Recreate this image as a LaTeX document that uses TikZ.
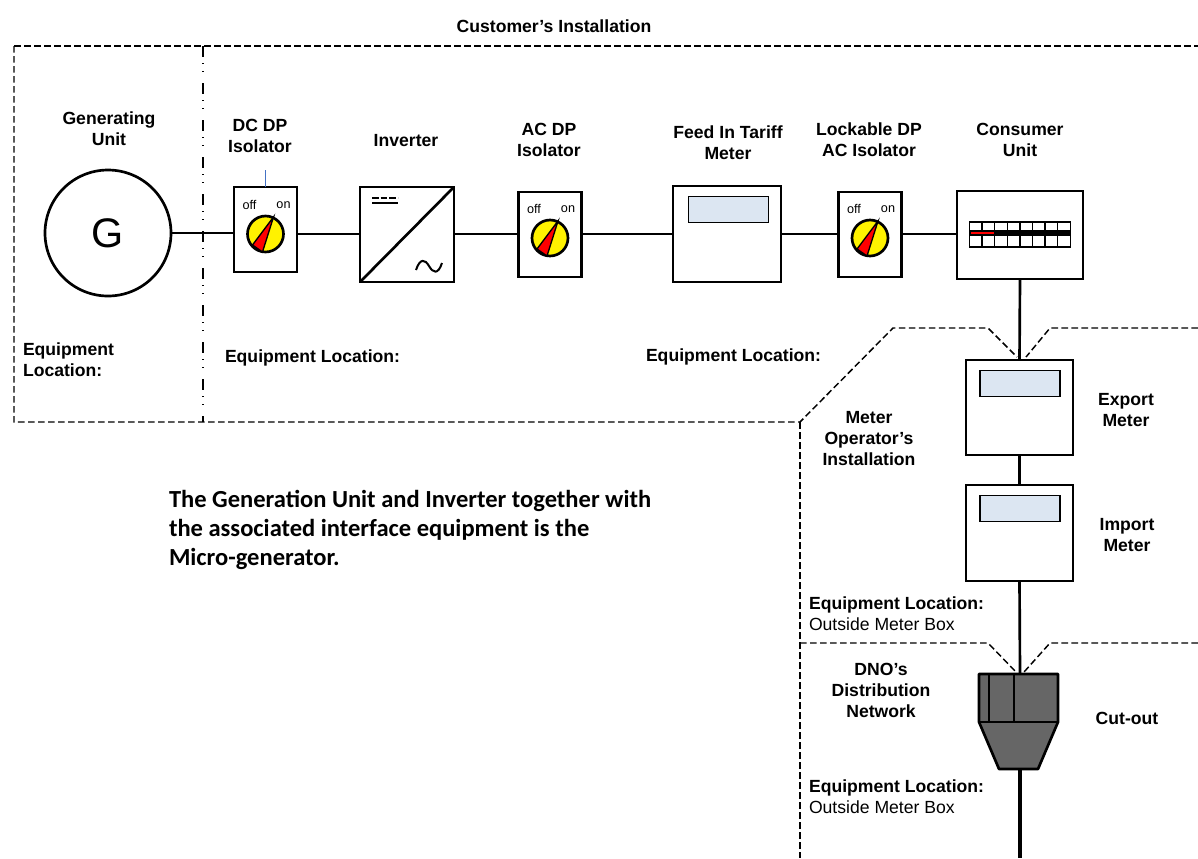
\documentclass[tikz,border=0pt]{standalone}
\usepackage{fontspec}
\setmainfont{Liberation Sans}
\newfontfamily\bodyfont{Carlito}
\usetikzlibrary{positioning}
\definecolor{screenblue}{RGB}{220,230,242}
\definecolor{leadblue}{RGB}{68,114,196}

\begin{document}
\begin{tikzpicture}[
      x=0.75pt, y=-0.75pt,
      every node/.style = {align=center, inner sep=0pt, outer sep=0pt},
      wire/.style       = {draw=black, line width=2pt},
      boundary/.style   = {draw=black, line width=1.1pt, dash pattern=on 5pt off 2.5pt},
      unit/.style       = {draw=black, line width=2pt, fill=white},
      isolatorbox/.style = {unit, minimum width=47.25pt, minimum height=63.75pt},
      meterbox/.style   = {unit, minimum width=80.25pt, minimum height=71.25pt},
      display/.style    = {draw=black, line width=1pt, fill=screenblue, minimum width=60pt, minimum height=19.5pt},
      knob/.style       = {circle, draw=black, line width=2pt, fill=yellow, minimum size=27pt},
      caption/.style    = {font=\fontsize{13.2}{15.75}\selectfont\bfseries},
      small/.style      = {font=\fontsize{9.5}{10}\selectfont}
    ]
    \useasboundingbox (0,0) rectangle (1198,858);

    % boundaries
    \draw[boundary] (14,46) -- (1198,46);
    \draw[boundary] (14,46) -- (14,422) -- (800,422) -- (893,328) -- (988,328) -- (1017,357);
    \draw[boundary] (1198,328) -- (1050,328) -- (1026,357);
    \draw[boundary, dash pattern=on 8pt off 5pt on 0.75pt off 5.25pt on 0.75pt off 8pt] (203,46) -- (203,422);
    \draw[boundary] (800,422) -- (800,858);
    \draw[boundary] (800,643) -- (988,643) -- (1016,672);
    \draw[boundary] (1198,643) -- (1050,643) -- (1024,672);

    % equipment
    \node (generator) [circle, unit, minimum size=94.5pt, font=\fontsize{31}{31}\selectfont] at (108,233) {G};
    \node (dcisolator)   [isolatorbox] at (265.5,229.5) {};
    \node (inverter)     [unit, minimum width=70.5pt, minimum height=71.25pt] at (407,234.5) {};
    \node (acisolator)   [isolatorbox] at (550,234.5) {};
    \node (fitmeter)     [meterbox, minimum width=81pt, minimum height=72pt] at (727,234) {};
    \node (fitdisplay)   [display] at (728.5,209.5) {};
    \node (lockisolator) [isolatorbox] at (870,234.5) {};
    \node (consumerunit) [unit, minimum width=94.5pt, minimum height=66pt] at (1020,235) {};
    \node (exportmeter)  [meterbox] at (1019.5,407.5) {};
    \node (exportdisplay) [display] at (1020,383.5) {};
    \node (importmeter)  [meterbox, minimum height=72pt] at (1019.5,533) {};
    \node (importdisplay) [display] at (1020,508.5) {};
    \coordinate (cutouttop) at (1020,674);
    \coordinate (cutoutbottom) at (1020,769);
    \coordinate (cableend) at (1020,858);

    % isolator knobs
    \foreach \name/\cx/\cy in {dc/265.5/234, ac/550/238, lock/870/238} {
      \node (\name knob) [knob] at (\cx,\cy) {};
      \draw[black, line width=1pt, fill=red] (\cx+8,\cy-17) -- (\cx-13,\cy+11) -- (\cx-3,\cy+18) -- cycle;
      \node [small] at (\cx-16,\cy-29) {off};
      \node [small] at (\cx+18,\cy-29) {on};
    }
    \draw[draw=leadblue, line width=1pt] (dcisolator.north) -- ++(0,-17);

    % inverter symbols
    \draw[wire] (inverter.south west) -- (inverter.north east);
    \draw[black, line width=1pt, dash pattern=on 5pt off 1.5pt] (372,198) -- (398,198);
    \draw[black, line width=1pt] (372,203) -- (398,203);
    \draw[black, line width=1.5pt] (416,270) .. controls (420,258) and (425,259) .. (429,266) .. controls (433,273) and (438,275) .. (442,263);

    % consumer unit breakers
    \foreach \i in {0,...,7} {
      \draw[black, line width=1pt] (969.5+\i*12.6,222) rectangle ++(12.6,25);
    }
    \fill[black] (969.5,230) rectangle (1070.3,235.5);
    \fill[red] (970.5,232) rectangle (994,234);

    % cut-out
    \fill[black!60, draw=black, line width=2pt, line join=round] (979,674) -- (1058,674) -- (1058,722) -- (1038,769) -- (999,769) -- (979,722) -- cycle;
    \draw[black, line width=2pt] (979,722) -- (1058,722);
    \draw[black, line width=1.5pt] (989,674) -- (989,722);
    \draw[black, line width=1.5pt] (1013.5,674) -- (1013.5,722);

    % connections
    \draw[wire] (generator) -- (generator -| dcisolator.west);
    \draw[wire] (dcknob -| dcisolator.east) -- (dcknob -| inverter.west);
    \draw[wire] (dcknob -| inverter.east) -- (dcknob -| acisolator.west);
    \draw[wire] (dcknob -| acisolator.east) -- (dcknob -| fitmeter.west);
    \draw[wire] (dcknob -| fitmeter.east) -- (dcknob -| lockisolator.west);
    \draw[wire] (dcknob -| lockisolator.east) -- (dcknob -| consumerunit.west);
    \draw[wire] (consumerunit.south) -- (exportmeter.north);
    \draw[wire] (exportmeter.south) -- (importmeter.north);
    \draw[wire] (importmeter.south) -- (cutouttop);
    \draw[black, line width=3pt] (cutoutbottom) -- (cableend);

    % labels
    \node (customerlabel) [caption] at (554,26) {Customer's Installation};
    \node (genlabel)      [caption] at (109,128.5) {Generating\\Unit};
    \node (dclabel)       [caption] at (260,135.5) {DC DP\\Isolator};
    \node (invlabel)      [caption] at (406,141) {Inverter};
    \node (aclabel)       [caption] at (549,139.5) {AC DP\\Isolator};
    \node (fitlabel)      [caption] at (728,142.5) {Feed In Tariff\\Meter};
    \node (locklabel)     [caption] at (869,139.5) {Lockable DP\\AC Isolator};
    \node (culabel)       [caption] at (1020,139.5) {Consumer\\Unit};
    \node (loca)          [caption, align=left, anchor=west] at (23,359.5) {Equipment\\Location:};
    \node (locb)          [caption, anchor=west] at (225,358) {Equipment Location:};
    \node (locc)          [caption, anchor=west] at (646,357) {Equipment Location:};
    \node (molabel)       [caption] at (869,438.5) {Meter\\Operator's\\Installation};
    \node (explabel)      [caption] at (1126,410.5) {Export\\Meter};
    \node (implabel)      [caption] at (1127,535.5) {Import\\Meter};
    \node (locd)          [caption, align=left, anchor=west] at (809,614) {Equipment Location:\\\mdseries Outside Meter Box};
    \node (dnolabel)      [caption] at (881,690) {DNO's\\Distribution\\Network};
    \node (cutlabel)      [caption] at (1127,718) {Cut-out};
    \node (loce)          [caption, align=left, anchor=west] at (809,796.5) {Equipment Location:\\\mdseries Outside Meter Box};
    \node (note) [align=left, anchor=north west, font=\bodyfont\fontsize{18.4}{22}\selectfont\bfseries] at (169,490) {The Generation Unit and Inverter together with\\the associated interface equipment is the\\Micro-generator.};
  \end{tikzpicture}
\end{document}
